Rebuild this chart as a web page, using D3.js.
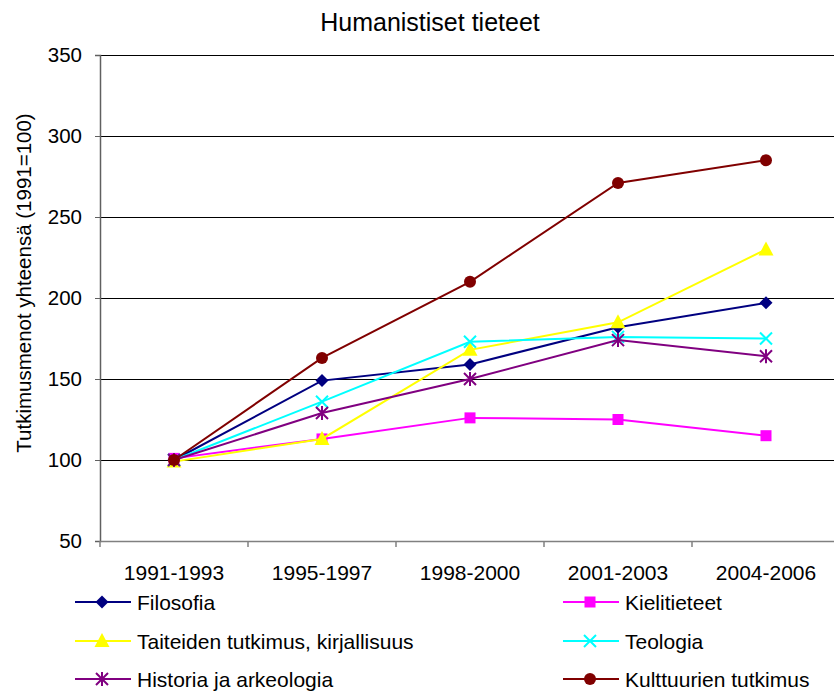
<!DOCTYPE html>
<html><head><meta charset="utf-8">
<script src="https://cdn.jsdelivr.net/npm/d3@7"></script>
<style>body{margin:0;background:#fff}svg{display:block;font-family:"Liberation Sans",Arial,sans-serif}</style>
</head><body><svg id="c" width="834" height="693"></svg>
<script>
const categories = ["1991-1993","1995-1997","1998-2000","2001-2003","2004-2006"];
const filosofia   = [100,149,159,182,197];
const kielitieteet= [101,113,126,125,115];
const taiteiden   = [99,113,168,185,230];
const teologia    = [100,136,173,176,175];
const historia    = [100,129,150,174,164];
const kulttuurien = [100,163,210,271,285];
const yTicks = [50,100,150,200,250,300,350];
const seriesNames = ["Filosofia","Kielitieteet","Taiteiden tutkimus, kirjallisuus","Teologia","Historia ja arkeologia","Kulttuurien tutkimus"];
const seriesValues = [filosofia,kielitieteet,taiteiden,teologia,historia,kulttuurien];
const colors = ["#000080","#FF00FF","#FFFF00","#00FFFF","#800080","#800000"];
const markers = ["diamond","square","triangle","x","asterisk","circle"];

const svg = d3.select("#c");
const L=100,R=840,T=55,B=541;
const x = d3.scaleBand().domain(categories).range([L,R]);
const y = d3.scaleLinear().domain([50,350]).range([B,T]);
const FONT = "Liberation Sans, Arial, sans-serif";

// gridlines
svg.append("g").selectAll("line").data(yTicks.filter(v=>v>50)).join("line")
  .attr("x1",L).attr("x2",R).attr("y1",d=>y(d)).attr("y2",d=>y(d))
  .attr("stroke","#000").attr("stroke-width",1).attr("shape-rendering","crispEdges");

// axes
const yAxis = svg.append("g").attr("transform",`translate(${L},0)`)
  .call(d3.axisLeft(y).tickValues(yTicks).tickSize(5).tickPadding(13));
yAxis.select(".domain").attr("stroke","#606060").attr("stroke-width",1.5);
yAxis.selectAll(".tick line").attr("stroke","#606060");
yAxis.selectAll("text").attr("font-size",20.5).attr("fill","#000").attr("font-family",FONT);

const xAxis = svg.append("g").attr("transform",`translate(0,${B})`)
  .call(d3.axisBottom(x).tickSize(0).tickPadding(24));
xAxis.select(".domain").attr("stroke","#808080").attr("stroke-width",1.5);
xAxis.selectAll("text").attr("font-size",21).attr("fill","#000").attr("font-family",FONT);
// category boundary ticks
svg.append("g").selectAll("line").data(categories).join("line")
  .attr("x1",d=>x(d)).attr("x2",d=>x(d)).attr("y1",B).attr("y2",B+6)
  .attr("stroke","#808080").attr("stroke-width",1.5);

function drawMarker(g, type, color, cx, cy){
  if(type==="diamond"){
    g.append("path").attr("d",`M${cx},${cy-6.5}L${cx+6.5},${cy}L${cx},${cy+6.5}L${cx-6.5},${cy}Z`).attr("fill",color);
  } else if(type==="square"){
    g.append("rect").attr("x",cx-5.5).attr("y",cy-5.5).attr("width",11).attr("height",11).attr("fill",color);
  } else if(type==="triangle"){
    g.append("path").attr("d",`M${cx},${cy-8}L${cx+7.5},${cy+6}L${cx-7.5},${cy+6}Z`).attr("fill",color);
  } else if(type==="x"){
    g.append("path").attr("d",`M${cx-6},${cy-6}L${cx+6},${cy+6}M${cx-6},${cy+6}L${cx+6},${cy-6}`).attr("stroke",color).attr("stroke-width",2);
  } else if(type==="asterisk"){
    g.append("path").attr("d",`M${cx-6},${cy-6}L${cx+6},${cy+6}M${cx-6},${cy+6}L${cx+6},${cy-6}M${cx},${cy-7}L${cx},${cy+7}`).attr("stroke",color).attr("stroke-width",2);
  } else if(type==="circle"){
    g.append("circle").attr("cx",cx).attr("cy",cy).attr("r",6).attr("fill",color);
  }
}

const line = d3.line().x((d,i)=>x(categories[i])+x.bandwidth()/2).y(d=>y(d));
seriesValues.forEach((vals,si)=>{
  const g = svg.append("g");
  g.append("path").datum(vals).attr("d",line).attr("fill","none").attr("stroke",colors[si]).attr("stroke-width",2);
  vals.forEach((v,i)=>drawMarker(g,markers[si],colors[si],x(categories[i])+x.bandwidth()/2,y(v)));
});

// title
svg.append("text").attr("x",430).attr("y",31).attr("text-anchor","middle")
  .attr("font-size",25).text("Humanistiset tieteet");
// y label
svg.append("text").attr("transform","translate(31,283) rotate(-90)").attr("text-anchor","middle")
  .attr("font-size",20.5).text("Tutkimusmenot yhteensä (1991=100)");

// legend
const legX=[75,563], legY=[602,641,679];
seriesNames.forEach((name,i)=>{
  const col=i%2,row=Math.floor(i/2);
  const lx=legX[col], ly=legY[row];
  const g=svg.append("g");
  g.append("line").attr("x1",lx).attr("x2",lx+56).attr("y1",ly).attr("y2",ly).attr("stroke",colors[i]).attr("stroke-width",2);
  drawMarker(g,markers[i],colors[i],lx+27,ly);
  g.append("text").attr("x",lx+62).attr("y",ly+7.5).attr("font-size",21).text(name);
});
</script></body></html>
